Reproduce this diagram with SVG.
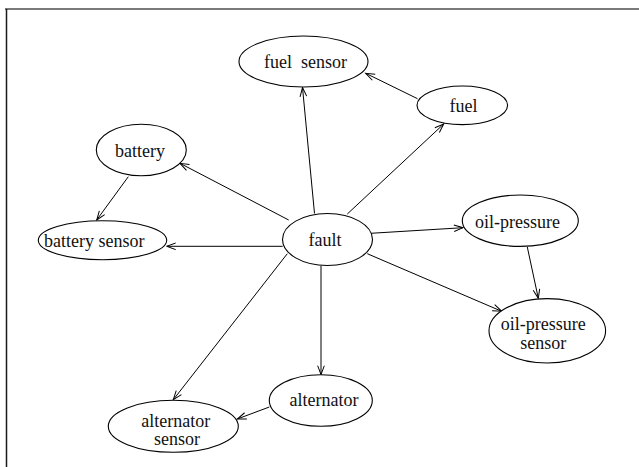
<svg xmlns="http://www.w3.org/2000/svg" width="639" height="467" viewBox="0 0 639 467">
  <style>
    .node ellipse { fill: #ffffff; stroke: #000000; stroke-width: 1.1; }
    .node text { font-family: 'Liberation Serif', 'DejaVu Serif', serif; font-size: 18px; fill: #111111; text-anchor: middle; }
    .edges line { stroke: #000000; stroke-width: 1; marker-end: url(#arrow); }
  </style>
  <defs>
    <marker id="arrow" markerUnits="userSpaceOnUse" markerWidth="14" markerHeight="10" viewBox="-11 -5 12 10" refX="0" refY="0" orient="auto">
      <path d="M -9 -3.3 L 0 0 L -9 3.3" fill="none" stroke="#000000" stroke-width="1"/>
    </marker>
  </defs>
  <rect width="639" height="467" fill="#ffffff"/>

  <!-- page frame -->
  <rect x="5" y="8" width="634" height="2" fill="#7a7a7a"/>
  <line x1="6.5" y1="9" x2="6.5" y2="467" stroke="#1a1a1a" stroke-width="1.5"/>

  <!-- connectors -->
  <g id="edges" class="edges">
    <line x1="314.5" y1="213.5" x2="302.5" y2="87.5"/>
    <line x1="417.5" y1="98.7" x2="365.7" y2="73.3"/>
    <line x1="347.3" y1="214" x2="443.7" y2="124"/>
    <line x1="288.7" y1="220" x2="180" y2="163.3"/>
    <line x1="128.3" y1="176.7" x2="96.7" y2="220"/>
    <line x1="282.7" y1="246.3" x2="166.7" y2="246.3"/>
    <line x1="370.7" y1="233.3" x2="463" y2="227.7"/>
    <line x1="527.3" y1="247" x2="538.3" y2="298.3"/>
    <line x1="367.3" y1="253.7" x2="501.7" y2="311.3"/>
    <line x1="321" y1="265.7" x2="321" y2="374.7"/>
    <line x1="287.3" y1="253.7" x2="173.3" y2="399.7"/>
    <line x1="269.3" y1="407" x2="237.3" y2="419"/>
  </g>

  <!-- nodes -->
  <g font-family="Liberation Serif, DejaVu Serif, serif">
  <g id="fuel-sensor" class="node">
    <ellipse cx="303.5" cy="61.5" rx="64.5" ry="25.5"/>
    <text x="305.5" y="67.5" xml:space="preserve">fuel  sensor</text>
  </g>
  <g id="fuel" class="node">
    <ellipse cx="462.3" cy="105.3" rx="45.3" ry="19.3"/>
    <text x="463.5" y="111.7">fuel</text>
  </g>
  <g id="battery" class="node">
    <ellipse cx="141.3" cy="150" rx="45" ry="25.7"/>
    <text x="140" y="157.3">battery</text>
  </g>
  <g id="battery-sensor" class="node">
    <ellipse cx="102.5" cy="240.2" rx="64.2" ry="19.5"/>
    <text x="94.2" y="246.8">battery sensor</text>
  </g>
  <g id="fault" class="node">
    <ellipse cx="327.5" cy="239.5" rx="45" ry="26"/>
    <text x="325" y="246.3">fault</text>
  </g>
  <g id="oil-pressure" class="node">
    <ellipse cx="520.3" cy="220.7" rx="58" ry="25.7"/>
    <text x="517.5" y="227.7">oil-pressure</text>
  </g>
  <g id="oil-pressure-sensor" class="node">
    <ellipse cx="547.3" cy="330.8" rx="58.3" ry="32.2"/>
    <text x="543.3" y="329.7">oil-pressure</text>
    <text x="543.3" y="348.7">sensor</text>
  </g>
  <g id="alternator" class="node">
    <ellipse cx="320.8" cy="400.5" rx="51.5" ry="25.8"/>
    <text x="324" y="405.5">alternator</text>
  </g>
  <g id="alternator-sensor" class="node">
    <ellipse cx="173.3" cy="426.3" rx="65" ry="26"/>
    <text x="175.8" y="427">alternator</text>
    <text x="177" y="445.3">sensor</text>
  </g>
  </g>
</svg>
